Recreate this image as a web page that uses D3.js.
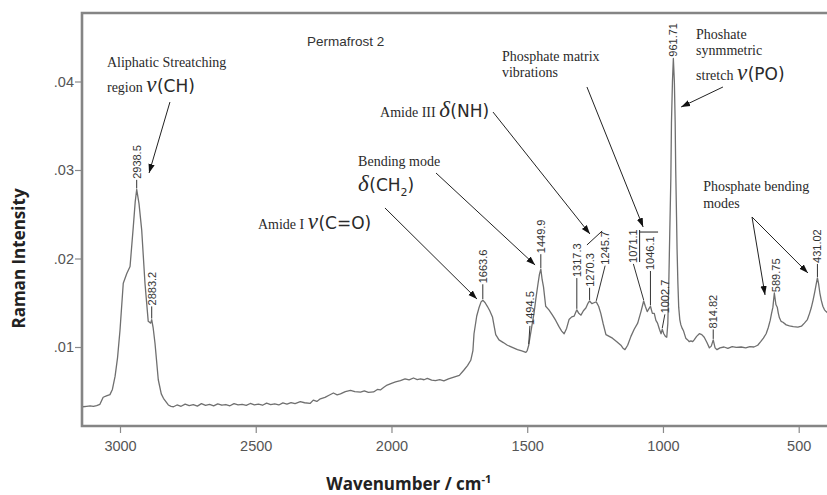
<!DOCTYPE html>
<html>
<head>
<meta charset="utf-8">
<script src="https://cdn.jsdelivr.net/npm/d3@7"></script>
<style>
  body { margin: 0; background: #fff; }
  svg { display: block; }
</style>
</head>
<body>
<div id="chart"></div>
<script>
// Spectrum (wavenumber in cm-1, Raman intensity)
const wavenumbers = [
  3136, 3123, 3110, 3098, 3086, 3074, 3062, 3050, 3037, 3028, 3018, 3009, 3000, 2988, 2975, 2963, 2951, 2944,
  2938.5, 2930, 2920, 2908, 2896, 2887, 2883.2, 2878, 2871, 2859, 2848, 2840, 2822, 2812, 2803,
  2790, 2775, 2760, 2745, 2730, 2715, 2700, 2685, 2670, 2655, 2640, 2625, 2610, 2595, 2580, 2565,
  2550, 2535, 2520, 2505, 2490, 2475, 2460, 2445, 2430, 2415, 2400, 2385, 2370, 2355, 2336,
  2320, 2300, 2288, 2275, 2262, 2245, 2230, 2214, 2200, 2188, 2170, 2151, 2135, 2114, 2100, 2085,
  2066, 2052, 2041, 2028, 2016, 2000, 1985, 1967, 1950, 1935, 1919, 1905, 1893, 1880, 1868, 1852,
  1838, 1822, 1807, 1790, 1770, 1750, 1733, 1720, 1708, 1700, 1696, 1686, 1678, 1670, 1663.6, 1655,
  1647, 1638, 1628, 1622, 1616, 1604, 1588, 1573, 1555, 1536, 1520, 1505, 1500, 1494.5, 1485, 1475,
  1468, 1460, 1455, 1449.9, 1445, 1440, 1432, 1420, 1407, 1395, 1383, 1373, 1364, 1355, 1346, 1336,
  1327, 1317.3, 1310, 1302, 1293, 1284, 1277, 1270.3, 1262, 1254, 1245.7, 1237, 1229, 1220, 1210,
  1198, 1186, 1170, 1155, 1148, 1140, 1130, 1118, 1106, 1093, 1081, 1071.1, 1065, 1058, 1052, 1046.1,
  1039, 1032, 1026, 1020, 1013, 1007, 1002.7, 997, 991, 986, 982, 978, 975, 971, 968.7, 965,
  961.71, 958, 955, 953, 950, 948, 945, 942, 938, 934, 929, 924, 916, 909, 903, 897, 891, 885,
  876, 866, 857, 848, 838, 829, 822, 814.82, 808, 801, 790, 775, 761, 745, 730, 712, 695, 680,
  665, 651, 640, 630, 620, 612, 605, 600, 595, 589.75, 584, 579, 575, 571, 565, 558, 546, 534,
  520, 503, 490, 479, 468, 460, 454, 447, 441, 435, 431.02, 427, 422, 417, 411, 405, 399, 392
];
const intensities = [
  .00325, .00330, .00335, .00328, .00338, .00352, .00432, .00448, .00462, .00520, .00670, .00880, .01190, .01720, .01830, .01910, .02360, .02640,
  .02780, .02620, .02320, .01720, .01290, .01270, .01310, .01220, .01040, .00630, .00470, .00420, .00345, .00330, .00325,
  .00345, .00330, .00355, .00338, .00348, .00332, .00360, .00340, .00352, .00335, .00358, .00342, .00350, .00336, .00360, .00345,
  .00352, .00340, .00362, .00346, .00355, .00342, .00365, .00350, .00358, .00345, .00368, .00355, .00372, .00360, .00382,
  .00370, .00362, .00400, .00385, .00415, .00430, .00455, .00480, .00460, .00470, .00495, .00510, .00495, .00490, .00505, .00488,
  .00492, .00520, .00515, .00545, .00570, .00590, .00605, .00620, .00640, .00628, .00650, .00632, .00640, .00630, .00645, .00625,
  .00620, .00632, .00618, .00640, .00660, .00680, .00740, .00790, .00850, .00960, .01150, .01350, .01440, .01510, .01530, .01500,
  .01460, .01410, .01340, .01240, .01140, .01080, .01050, .01020, .00995, .00970, .00955, .00940, .00960, .01020, .01200, .01380,
  .01550, .01720, .01820, .01880, .01760, .01680, .01460, .01420, .01360, .01300, .01230, .01180, .01150, .01210, .01310, .01340,
  .01350, .01420, .01380, .01360, .01410, .01440, .01490, .01520, .01490, .01500, .01510, .01460, .01380, .01260, .01140,
  .01120, .01100, .01060, .01020, .00990, .00970, .01020, .01120, .01200, .01270, .01400, .01520, .01460, .01400, .01430, .01460,
  .01380, .01380, .01300, .01270, .01200, .01150, .01200, .01150, .01120, .01110, .01270, .01800, .02280, .02900, .03530, .04000,
  .04260, .04000, .03530, .03000, .02470, .02100, .01720, .01450, .01310, .01250, .01210, .01180, .01100, .01080, .01060, .01070, .01060, .01080,
  .01120, .01150, .01140, .01110, .01050, .00990, .01010, .01080, .00990, .00970, .00990, .01000, .00985, .01005, .00995, .01000, .00990, .01005,
  .01000, .01020, .01060, .01100, .01150, .01220, .01300, .01380, .01450, .01610, .01480, .01450, .01380, .01330, .01290, .01280, .01250, .01240,
  .01230, .01225, .01235, .01270, .01310, .01380, .01440, .01530, .01620, .01720, .01780, .01720, .01610, .01530, .01460, .01420, .01400, .01380
];

// Labelled peaks: position, value at the peak, where the label text sits
const peakWn = [2938.5, 2883.2, 1663.6, 1494.5, 1449.9, 1317.3, 1270.3, 1245.7, 1071.1, 1046.1, 1002.7, 961.71, 814.82, 589.75, 431.02];
const peakText = ["2938.5", "2883.2", "1663.6", "1494.5", "1449.9", "1317.3", "1270.3", "1245.7", "1071.1", "1046.1", "1002.7", "961.71", "814.82", "589.75", "431.02"];
const peakVal = [.0278, .0131, .0153, .0102, .0188, .0142, .0152, .0151, .0152, .0146, .0120, .0426, .0108, .0161, .0178];
const labelWn = [2938.5, 2883.2, 1663.6, 1490, 1449.9, 1317.3, 1270.3, 1213, 1109, 1046.1, 993, 961.71, 814.82, 585, 431.02];
const labelVal = [.0290, .0147, .0172, .0125, .0206, .0179, .0168, .0193, .0195, .0187, .0138, .0428, .0121, .0162, .0195];

const xTicks = [3000, 2500, 2000, 1500, 1000, 500];
const yTicks = [0.01, 0.02, 0.03, 0.04];

// Annotation text lines (anchored in data units)
const noteLines = [
  { wn: 3048, v: .04164, parts: [["Aliphatic Streatching", "s"]] },
  { wn: 3048, v: .03881, parts: [["region ", "s"], ["ν", "g"], ["(CH)", "f"]] },
  { wn: 2042, v: .03599, parts: [["Amide III ", "s"], ["δ", "g"], ["(NH)", "f"]] },
  { wn: 2123, v: .03045, parts: [["Bending mode", "s"]] },
  { wn: 2123, v: .02763, parts: [["δ", "g"], ["(CH", "f"], ["2", "sub"], [")", "f"]] },
  { wn: 2492, v: .02333, parts: [["Amide I ", "s"], ["ν", "g"], ["(C=O)", "f"]] },
  { wn: 1593, v: .04232, parts: [["Phosphate matrix", "s"]] },
  { wn: 1593, v: .04051, parts: [["vibrations", "s"]] },
  { wn: 878, v: .04480, parts: [["Phoshate", "s"]] },
  { wn: 878, v: .04299, parts: [["synmmetric", "s"]] },
  { wn: 878, v: .04017, parts: [["stretch ", "s"], ["ν", "g"], ["(PO)", "f"]] },
  { wn: 852, v: .02763, parts: [["Phosphate bending", "s"]] },
  { wn: 852, v: .02571, parts: [["modes", "s"]] }
];
// Arrows: [fromWn, fromV, toWn, toV]
const arrows = [
  [2816, .03768, 2893, .02966],
  [2024, .02571, 1685, .01542],
  [1836, .02966, 1471, .01927],
  [1626, .03655, 1269, .02277],
  [1280, .03938, 1073, .02356],
  [779, .03938, 933, .03712],
  [672, .02469, 624, .01588],
  [672, .02469, 466, .01836]
];
// Plain bracket strokes
const brackets = [
  [[1280, .02153], [1224, .02311]],
  [[1086, .01960], [1086, .02322]],
  [[1086, .02299], [1018, .02299]]
];

const width = 827, height = 495;
const plotLeft = 82, plotTop = 13, plotBottom = 426;

const svg = d3.select("#chart")
  .append("svg")
  .attr("width", width)
  .attr("height", height);

const xScale = d3.scaleLinear().domain([3000, 500]).range([120, 798.7]);
const yScale = d3.scaleLinear().domain([0.01, 0.04]).range([347, 81.5]);

const defs = svg.append("defs");
defs.append("clipPath").attr("id", "plot")
  .append("rect").attr("x", plotLeft).attr("y", plotTop)
  .attr("width", width - plotLeft + 10).attr("height", plotBottom - plotTop);

const marker = defs.append("marker")
  .attr("id", "head")
  .attr("viewBox", "0 0 10 10")
  .attr("refX", 10).attr("refY", 5)
  .attr("markerWidth", 9).attr("markerHeight", 9)
  .attr("markerUnits", "userSpaceOnUse")
  .attr("orient", "auto");
marker.append("path").attr("d", "M0,1.5L10,5L0,8.5Z").attr("fill", "#111");

// axes
const xAxis = d3.axisBottom(xScale).tickValues(xTicks).tickSize(7).tickFormat(d3.format("d"));
const yAxis = d3.axisLeft(yScale).tickValues(yTicks).tickSize(7)
  .tickFormat(d => d3.format(".2f")(d).replace(/^0/, ""));

const gx = svg.append("g").attr("transform", `translate(0,${plotBottom})`).call(xAxis);
const gy = svg.append("g").attr("transform", `translate(${plotLeft},0)`).call(yAxis);
[gx, gy].forEach(g => {
  g.select(".domain").remove();
  g.selectAll(".tick line").attr("stroke", "#8a8a8a").attr("stroke-width", 1.2);
  g.selectAll(".tick text")
    .attr("fill", "#555")
    .style("font-family", "'Liberation Sans', Arial, sans-serif")
    .style("font-size", "14.5px");
});
gx.selectAll(".tick text").attr("dy", "1.05em");
gy.selectAll(".tick text").attr("x", -8);

// frame
svg.append("path")
  .attr("d", `M${width + 5},${plotTop}H${plotLeft}V${plotBottom}H${width + 5}`)
  .attr("fill", "none")
  .attr("stroke", "#858585")
  .attr("stroke-width", 2.6);

// spectrum
const spectrum = wavenumbers.map((w, i) => ({ w, v: intensities[i] }));
const line = d3.line()
  .x(d => xScale(d.w))
  .y(d => yScale(d.v));

svg.append("path")
  .datum(spectrum)
  .attr("clip-path", "url(#plot)")
  .attr("d", line)
  .attr("fill", "none")
  .attr("stroke", "#6f6f6f")
  .attr("stroke-width", 1.3)
  .attr("stroke-linejoin", "round");

// peak labels
const peaks = svg.append("g").attr("class", "peaks");
peakWn.forEach((w, i) => {
  const lx = xScale(labelWn[i]), ly = yScale(labelVal[i]);
  const px = xScale(w), py = yScale(peakVal[i]);
  if (py - ly > 3) {
    peaks.append("line")
      .attr("x1", lx).attr("y1", ly + 1)
      .attr("x2", px).attr("y2", py - 1)
      .attr("stroke", "#333").attr("stroke-width", 1);
  }
  peaks.append("text")
    .attr("transform", `translate(${lx},${ly}) rotate(-90)`)
    .attr("dy", "0.36em")
    .attr("fill", "#333")
    .style("font-family", "'Liberation Sans', Arial, sans-serif")
    .style("font-size", "11px")
    .text(peakText[i]);
});

// annotations
const fonts = {
  s: { family: "'Liberation Serif', 'Times New Roman', serif", size: 14, style: "normal" },
  g: { family: "'Liberation Serif', 'Times New Roman', serif", size: 23, style: "italic" },
  f: { family: "'DejaVu Sans', Verdana, sans-serif", size: 17, style: "normal" },
  sub: { family: "'DejaVu Sans', Verdana, sans-serif", size: 11, style: "normal" }
};
const notes = svg.append("g").attr("class", "notes").attr("fill", "#2a2a2a");
noteLines.forEach(n => {
  const t = notes.append("text")
    .attr("x", xScale(n.wn))
    .attr("y", yScale(n.v));
  n.parts.forEach(([txt, kind], j) => {
    const f = fonts[kind];
    const prev = j > 0 ? n.parts[j - 1][1] : null;
    const ts = t.append("tspan")
      .style("font-family", f.family)
      .style("font-size", f.size + "px")
      .style("font-style", f.style)
      .text(txt);
    if (kind === "sub") ts.attr("dy", 5);
    if (prev === "sub") ts.attr("dy", -5);
    if (kind === "f" && prev === "g") ts.attr("dx", 0.5);
  });
});

arrows.forEach(a => {
  svg.append("line")
    .attr("x1", xScale(a[0])).attr("y1", yScale(a[1]))
    .attr("x2", xScale(a[2])).attr("y2", yScale(a[3]))
    .attr("stroke", "#222").attr("stroke-width", 1)
    .attr("marker-end", "url(#head)");
});

brackets.forEach(b => {
  svg.append("line")
    .attr("x1", xScale(b[0][0])).attr("y1", yScale(b[0][1]))
    .attr("x2", xScale(b[1][0])).attr("y2", yScale(b[1][1]))
    .attr("stroke", "#222").attr("stroke-width", 1);
});

// titles
svg.append("text")
  .attr("x", xScale(2311)).attr("y", 46)
  .attr("fill", "#333")
  .style("font-family", "'Liberation Sans', Arial, sans-serif")
  .style("font-size", "13.5px")
  .text("Permafrost 2");

svg.append("text")
  .attr("transform", `translate(25,${yScale(0.0200)}) rotate(-90)`)
  .attr("text-anchor", "middle")
  .attr("fill", "#222")
  .style("font-family", "'Open Sans', sans-serif")
  .style("font-weight", "bold")
  .style("font-size", "17px")
  .text("Raman Intensity");

const xt = svg.append("text")
  .attr("x", xScale(1936)).attr("y", 490)
  .attr("text-anchor", "middle")
  .attr("fill", "#222")
  .style("font-family", "'Open Sans', sans-serif")
  .style("font-weight", "bold")
  .style("font-size", "17px");
xt.append("tspan").text("Wavenumber / cm");
xt.append("tspan").attr("dy", -7).style("font-size", "11px").text("-1");
</script>
</body>
</html>
